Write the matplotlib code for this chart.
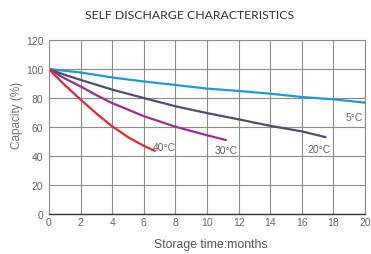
import numpy as np
import matplotlib
matplotlib.use("Agg")
import matplotlib.pyplot as plt

# Valeurs (mois, capacité %)
mois_5c = [0, 2, 4, 6, 8, 10, 12, 14, 16, 18, 20]
cap_5c = [100, 97.6, 94.2, 91.4, 89, 86.5, 84.9, 83, 80.7, 79.1, 76.8]

mois_20c = [0, 1, 2, 4, 6, 8, 10, 12, 14, 16, 17.5]
cap_20c = [100, 96, 92.5, 85.8, 80, 74.3, 69.6, 65.3, 60.8, 57, 53]

mois_30c = [0, 1, 2, 3, 4, 6, 8, 10, 11.2]
cap_30c = [100, 93.5, 88, 82, 76.5, 67.5, 60.2, 54.3, 51]

mois_40c = [0, 0.5, 1, 2, 3, 4, 5, 6, 6.7]
cap_40c = [100, 94.3, 89, 79, 69.3, 60.5, 53, 47, 43.5]

courbes = [
    (mois_5c, cap_5c, '#1f9ad6', '5°C', (19.3, 67)),
    (mois_20c, cap_20c, '#4b4f78', '20°C', (17.1, 45)),
    (mois_30c, cap_30c, '#9a2f8e', '30°C', (11.2, 44)),
    (mois_40c, cap_40c, '#e52a2a', '40°C', (7.3, 46)),
]

fig = plt.figure(figsize=(3.71, 2.55), dpi=100)
ax = fig.add_axes([0.132, 0.157, 0.852, 0.682])

for x, y, couleur, label, pos in courbes:
    ax.plot(x, y, color=couleur, linewidth=1.6, solid_capstyle='round',
            solid_joinstyle='round')
    ax.text(pos[0], pos[1], label, color='#666666', fontsize=7.5,
            family='Liberation Sans', ha='center', va='center')

ax.set_xlim(0, 20)
ax.set_ylim(0, 120)
ax.set_xticks(np.arange(0, 21, 2))
ax.set_yticks(np.arange(0, 121, 20))
ax.grid(True, color='#8c8c8c', linewidth=0.8)
ax.set_axisbelow(True)
for side in ['top', 'right', 'left']:
    ax.spines[side].set_color('#8c8c8c')
    ax.spines[side].set_linewidth(0.8)
ax.spines['bottom'].set_color('#333333')
ax.spines['bottom'].set_linewidth(1.0)
ax.tick_params(length=0, labelsize=7.5, labelcolor='#666666')
ax.tick_params(axis='x', pad=2)
ax.tick_params(axis='y', pad=4)
for lbl in ax.get_xticklabels() + ax.get_yticklabels():
    lbl.set_family('Liberation Sans')

ax.set_ylabel('Capacity (%)', fontsize=8.5, color='#777777', family='Liberation Sans')
ax.yaxis.set_label_coords(-0.082, 0.57)
ax.set_xlabel('Storage time:months', fontsize=8.8, color='#555555', family='Liberation Sans')
ax.xaxis.set_label_coords(0.513, -0.14)
fig.text(0.512, 0.94, 'SELF DISCHARGE CHARACTERISTICS', ha='center', va='center',
         fontsize=8.8, color='#333333', family='Lato')

fig.savefig('out.png', dpi=100)
